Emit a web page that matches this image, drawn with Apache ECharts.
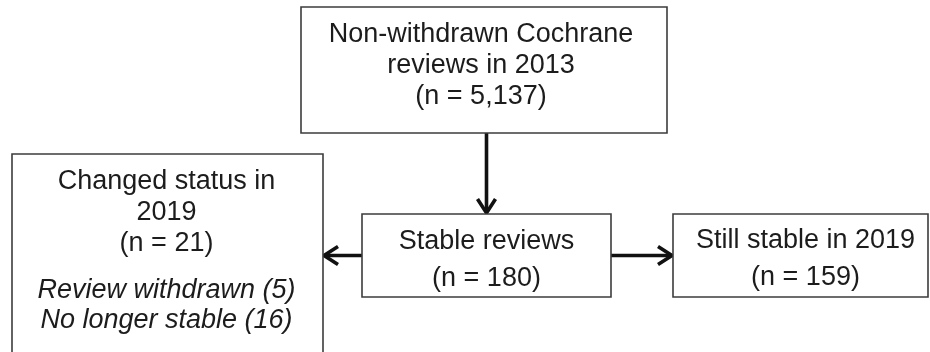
<!DOCTYPE html>
<html>
<head>
<meta charset="utf-8">
<script src="https://cdn.jsdelivr.net/npm/echarts@6/dist/echarts.min.js"></script>
<style>html,body{margin:0;padding:0;background:#fff}#c{width:930px;height:352px}</style>
</head>
<body>
<div id="c"></div>
<script>
// ---- data ----
const boxTitles = ['Non-withdrawn Cochrane\nreviews in 2013', 'Stable reviews', 'Changed status in\n2019', 'Still stable in 2019'];
const boxCounts = [5137, 180, 21, 159];
const changeReasons = ['Review withdrawn', 'No longer stable'];
const changeCounts = [5, 16];
const links = [[0, 1], [1, 2], [1, 3]];
const detailBox = 2;

// ---- layout (drawing coordinates) ----
const boxRects = [[301, 7, 667, 133], [362, 214, 611, 297], [12, 154, 323, 362], [673, 214, 928, 297]];
const textFirstY = [35, 242, 182, 241];
const textGap = [31, 36.5, 31, 37];
const textDX = [-3, 0, -1, 5];
const detailFirstY = 290;
const detailGap = 30;

const FONT = '"Liberation Sans", Arial, sans-serif';
const fmt = n => n.toLocaleString('en-US');

const chart = echarts.init(document.getElementById('c'), null, {renderer: 'canvas'});

function boxItem(params, api) {
  const i = api.value(0);
  const r = boxRects[i];
  const p0 = api.coord([r[0], r[1]]);
  const p1 = api.coord([r[2], r[3]]);
  const cx = (p0[0] + p1[0]) / 2 + textDX[i];
  const children = [{
    type: 'rect',
    shape: {x: p0[0], y: p0[1], width: p1[0] - p0[0], height: p1[1] - p0[1]},
    style: {fill: '#fff', stroke: '#3c3c3c', lineWidth: 1.6}
  }];
  const lines = boxTitles[i].split('\n').concat(['(n = ' + fmt(boxCounts[i]) + ')']);
  lines.forEach((t, k) => {
    const y = api.coord([0, textFirstY[i] + k * textGap[i]])[1];
    children.push({type: 'text', style: {text: t, x: cx, y: y, align: 'center', verticalAlign: 'middle', font: '27px ' + FONT, fill: '#1c1c1c'}});
  });
  if (i === detailBox) {
    changeReasons.forEach((t, k) => {
      const y = api.coord([0, detailFirstY + k * detailGap])[1];
      children.push({type: 'text', style: {text: t + ' (' + changeCounts[k] + ')', x: cx, y: y, align: 'center', verticalAlign: 'middle', font: 'italic 27px ' + FONT, fill: '#1c1c1c'}});
    });
  }
  return {type: 'group', children: children};
}

function linkItem(params, api) {
  const s = boxRects[api.value(0)], t = boxRects[api.value(1)];
  let a, b;
  const tcx = (t[0] + t[2]) / 2, scy = (s[1] + s[3]) / 2;
  if (t[1] >= s[3]) { a = [tcx, s[3]]; b = [tcx, t[1]]; }
  else if (t[2] <= s[0]) { a = [s[0], scy]; b = [t[2], scy]; }
  else { a = [s[2], scy]; b = [t[0], scy]; }
  const pa = api.coord(a), pb = api.coord(b);
  const dx = pb[0] - pa[0], dy = pb[1] - pa[1];
  const len = Math.hypot(dx, dy), ux = dx / len, uy = dy / len;
  const back = 15, half = 9;
  const w1 = [pb[0] - ux * back - uy * half, pb[1] - uy * back + ux * half];
  const w2 = [pb[0] - ux * back + uy * half, pb[1] - uy * back - ux * half];
  const st = {stroke: '#111', lineWidth: 3.6, fill: null, lineJoin: 'miter', lineCap: 'butt'};
  return {type: 'group', children: [
    {type: 'line', shape: {x1: pa[0], y1: pa[1], x2: pb[0] - ux * 2, y2: pb[1] - uy * 2}, style: st},
    {type: 'polyline', shape: {points: [w1, [pb[0] - ux * 1, pb[1] - uy * 1], w2]}, style: st}
  ]};
}

chart.setOption({
  animation: false,
  backgroundColor: '#fff',
  grid: {left: 0, right: 0, top: 0, bottom: 0},
  xAxis: {type: 'value', min: 0, max: 930, show: false},
  yAxis: {type: 'value', min: 0, max: 352, inverse: true, show: false},
  series: [
    {type: 'custom', renderItem: linkItem, data: links, clip: false, z: 1},
    {type: 'custom', renderItem: boxItem, data: boxTitles.map((_, i) => [i]), clip: true, z: 2}
  ]
});
</script>
</body>
</html>
